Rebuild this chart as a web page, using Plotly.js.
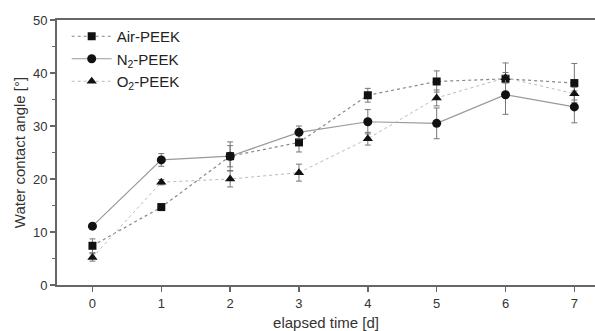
<!DOCTYPE html>
<html>
<head>
<meta charset="utf-8">
<script src="https://cdn.plot.ly/plotly-3.0.1.min.js"></script>
<style>html,body{margin:0;padding:0;background:#fff;}#chart{width:595px;height:331px;}</style>
</head>
<body>
<div id="chart"></div>
<script>
const days = [0, 1, 2, 3, 4, 5, 6, 7];
const tickLabels = ['0', '1', '2', '3', '4', '5', '6', '7'];
const airPEEK = [7.4, 14.7, 24.3, 26.9, 35.8, 38.4, 38.9, 38.1];
const airErr = [1.3, 0.6, 2.7, 1.8, 1.3, 2.0, 3.0, 3.7];
const n2PEEK = [11.1, 23.6, 24.3, 28.8, 30.8, 30.5, 35.9, 33.6];
const n2Err = [0.5, 1.2, 2.0, 1.2, 2.3, 2.9, 3.7, 3.0];
const o2PEEK = [5.2, 19.4, 20.0, 21.2, 27.6, 35.3, 39.1, 36.1];
const o2Err = [0.7, 0.5, 1.5, 1.6, 1.2, 1.5, 1.0, 1.2];

const errStyle = (arr) => ({type: 'data', array: arr, visible: true, color: '#777', thickness: 1, width: 3});

const traces = [
  {x: days, y: airPEEK, name: 'Air-PEEK', mode: 'lines+markers', type: 'scatter',
   line: {color: '#888', width: 1.2, dash: 'dot'},
   marker: {symbol: 'square', size: 8, color: '#111'}, error_y: errStyle(airErr)},
  {x: days, y: n2PEEK, name: 'N<sub>2</sub>-PEEK', mode: 'lines+markers', type: 'scatter',
   line: {color: '#999', width: 1.2},
   marker: {symbol: 'circle', size: 9, color: '#111'}, error_y: errStyle(n2Err)},
  {x: days, y: o2PEEK, name: 'O<sub>2</sub>-PEEK', mode: 'lines+markers', type: 'scatter',
   line: {color: '#bbb', width: 1, dash: 'dot'},
   marker: {symbol: 'triangle-up', size: 9, color: '#111'}, error_y: errStyle(o2Err)}
];

const layout = {
  width: 595, height: 331,
  margin: {l: 57, r: 0, t: 20, b: 46},
  paper_bgcolor: '#fff', plot_bgcolor: '#fff',
  font: {family: 'Liberation Sans, Arial, sans-serif', color: '#333', size: 12},
  showlegend: true,
  legend: {x: 0.018, y: 1.0, xanchor: 'left', yanchor: 'top', bgcolor: 'rgba(0,0,0,0)',
           font: {size: 15, color: '#222'}, tracegroupgap: 0, itemwidth: 40},
  xaxis: {
    range: [-0.515, 7.3], tickvals: days, ticktext: tickLabels,
    showgrid: false, zeroline: false, showline: true, linecolor: '#666', linewidth: 2,
    mirror: true, ticks: 'outside', ticklen: 5, tickwidth: 1.5, tickcolor: '#666',
    tickfont: {size: 13, color: '#333'},
    title: {text: 'elapsed time [d]', font: {size: 15, color: '#333'}, standoff: 9}
  },
  yaxis: {
    range: [0, 50], tickvals: [0, 10, 20, 30, 40, 50],
    showgrid: false, zeroline: false, showline: true, linecolor: '#666', linewidth: 2,
    ticks: 'outside', ticklen: 5, tickwidth: 1.5, tickcolor: '#666',
    minor: {dtick: 5, ticks: 'outside', ticklen: 3, tickcolor: '#666', tickwidth: 1},
    tickfont: {size: 13, color: '#333'},
    title: {text: 'Water contact angle [°]', font: {size: 15, color: '#333'}, standoff: 4}
  }
};

Plotly.newPlot('chart', traces, layout, {displayModeBar: false, staticPlot: true});
</script>
</body>
</html>
